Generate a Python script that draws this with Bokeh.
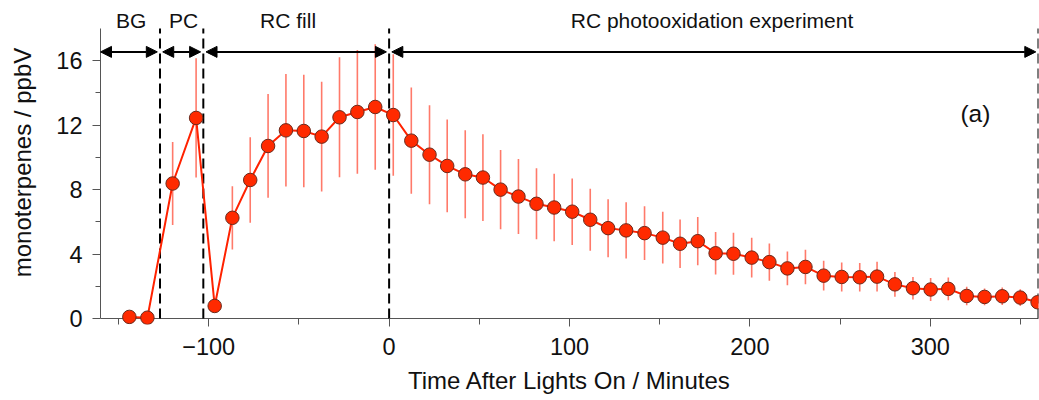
from bokeh.plotting import figure
from bokeh.models import Range1d, FixedTicker, Label, Arrow, NormalHead, ColumnDataSource
from bokeh.embed import file_html
from bokeh.resources import INLINE

# ---- data ----
bg_x = [-144.0, -134.0]
bg_y = [0.10, 0.05]
bg_err = [0.0, 0.0]

pc_x = [-120.0, -107.0]
pc_y = [8.38, 12.45]
pc_err = [2.58, 3.70]

fill_x = [-96.7, -86.9, -77.0, -67.1, -57.2, -47.3, -37.4, -27.5, -17.6, -7.7]
fill_y = [0.78, 6.25, 8.60, 10.71, 11.68, 11.64, 11.29, 12.49, 12.82, 13.13]
fill_err = [0.0, 1.96, 2.65, 3.22, 3.49, 3.49, 3.40, 3.72, 3.84, 3.90]

photo_x = [2.3, 12.3, 22.4, 32.2, 42.2, 52.0, 61.8, 71.7, 81.7, 91.5, 101.5, 111.5,
           121.4, 131.4, 141.6, 151.7, 161.3, 171.1, 181.0, 190.9, 201.0, 210.8,
           220.8, 230.8, 240.9, 250.9, 260.9, 270.5, 280.4, 290.4, 300.2, 310.0,
           320.2, 330.1, 339.9, 349.9, 359.5]
photo_y = [12.63, 11.04, 10.17, 9.47, 8.95, 8.75, 8.00, 7.57, 7.12, 6.89, 6.63, 6.13,
           5.61, 5.47, 5.30, 5.02, 4.64, 4.80, 4.05, 4.02, 3.78, 3.50, 3.11, 3.20,
           2.66, 2.58, 2.56, 2.60, 2.12, 1.88, 1.80, 1.84, 1.40, 1.34, 1.38, 1.30, 1.01]
photo_err = [3.77, 3.30, 3.07, 2.88, 2.73, 2.69, 2.46, 2.33, 2.20, 2.10, 2.06, 1.93,
             1.80, 1.74, 1.67, 1.60, 1.50, 1.50, 1.32, 1.31, 1.23, 1.15, 1.05, 1.07,
             0.92, 0.90, 0.88, 0.92, 0.77, 0.70, 0.71, 0.70, 0.57, 0.52, 0.54, 0.52, 0.30]

phase_bounds = [-127, -103, 0, 360]
phase_names = ["BG", "PC", "RC fill", "RC photooxidation experiment"]
phase_starts = [-160, -127, -103, 0]
phase_label_x = [-143, -114, -56, 179]

x_ticks = [-100, 0, 100, 200, 300]
x_minor = [-150, -50, 50, 150, 250, 350]
y_ticks = [0, 4, 8, 12, 16]
y_minor = [2, 6, 10, 14]

FONT = "Liberation Sans"
X_START, X_END = -160, 360
Y_TOP = 18.0
Y_END = 19.74
Y_START = -0.372   # a few pixels below 0 so markers at 0 are not cut

xs = bg_x + pc_x + fill_x + photo_x
ys = bg_y + pc_y + fill_y + photo_y
es = bg_err + pc_err + fill_err + photo_err
src = ColumnDataSource(dict(x=xs, y=ys, lo=[y - e for y, e in zip(ys, es)],
                            hi=[y + e for y, e in zip(ys, es)]))

p = figure(width=1039, height=400, output_backend="svg", toolbar_location=None,
           x_range=Range1d(X_START, X_END), y_range=Range1d(Y_START, Y_END),
           min_border_left=100, min_border_right=1, min_border_top=0, min_border_bottom=76)
p.outline_line_color = None
p.grid.visible = False
p.background_fill_color = "white"
p.border_fill_color = "white"

# x axis line at y = 0
p.segment(x0=[X_START], y0=[0], x1=[X_END], y1=[0], line_color="#555555", line_width=1)

# phase dashed separators
p.segment(x0=phase_bounds, y0=[0] * len(phase_bounds), x1=phase_bounds,
          y1=[Y_TOP] * len(phase_bounds), line_color="black", line_width=2, line_dash="10 5")

# error bars, line, markers
p.segment(x0="x", y0="lo", x1="x", y1="hi", source=src, line_color="#ff7a6a", line_width=1.6)
p.line(x="x", y="y", source=src, line_color="#ff2200", line_width=2)
p.scatter(x="x", y="y", source=src, size=13.5, fill_color="#ff2a00",
          line_color="#6a2a1c", line_width=1)

# phase arrows and labels
arrow_y = 16.55
gap = 1.5
for s, e, name, lx in zip(phase_starts, phase_bounds, phase_names, phase_label_x):
    x0 = s + (0 if s == X_START else gap)
    x1 = e - gap
    p.add_layout(Arrow(x_start=x0, y_start=arrow_y, x_end=x1, y_end=arrow_y,
                       line_color="black", line_width=2,
                       start=NormalHead(size=11, fill_color="black", line_color="black"),
                       end=NormalHead(size=11, fill_color="black", line_color="black")))
    p.add_layout(Label(x=lx, y=18.48, text=name,
                       text_align="center", text_baseline="middle",
                       text_font=FONT, text_font_size="21px", text_color="#111111"))

p.add_layout(Label(x=325, y=12.7, text="(a)", text_align="center", text_baseline="middle",
                   text_font=FONT, text_font_size="24.5px", text_color="#111111"))

# axes
for ax in (p.xaxis[0], p.yaxis[0]):
    ax.axis_line_color = "#555555"
    ax.major_tick_line_color = "#555555"
    ax.minor_tick_line_color = "#555555"
    ax.major_label_text_font = FONT
    ax.major_label_text_font_size = "23.5px"
    ax.major_label_text_color = "#111111"
    ax.axis_label_text_font = FONT
    ax.axis_label_text_font_size = "24px"
    ax.axis_label_text_font_style = "normal"
    ax.axis_label_text_color = "#111111"

p.yaxis.major_tick_in = 0
p.yaxis.major_tick_out = 8
p.yaxis.minor_tick_in = 0
p.yaxis.minor_tick_out = 5
p.yaxis.bounds = (0, Y_TOP)

# x axis: frame bottom sits 6 px below y=0, ticks drawn up into that strip
p.xaxis.axis_line_color = None
p.xaxis.major_tick_in = 6
p.xaxis.major_tick_out = 2
p.xaxis.minor_tick_in = 6
p.xaxis.minor_tick_out = 0

p.xaxis.ticker = FixedTicker(ticks=x_ticks, minor_ticks=x_minor)
p.yaxis.ticker = FixedTicker(ticks=y_ticks, minor_ticks=y_minor)
p.xaxis.axis_label = "Time After Lights On / Minutes"
p.yaxis.axis_label = "monoterpenes / ppbV"
p.xaxis.major_label_standoff = 11
p.xaxis.axis_label_standoff = 9
p.yaxis.major_label_standoff = 10
p.yaxis.axis_label_standoff = 17

open("out.html", "w").write(file_html(p, INLINE))
